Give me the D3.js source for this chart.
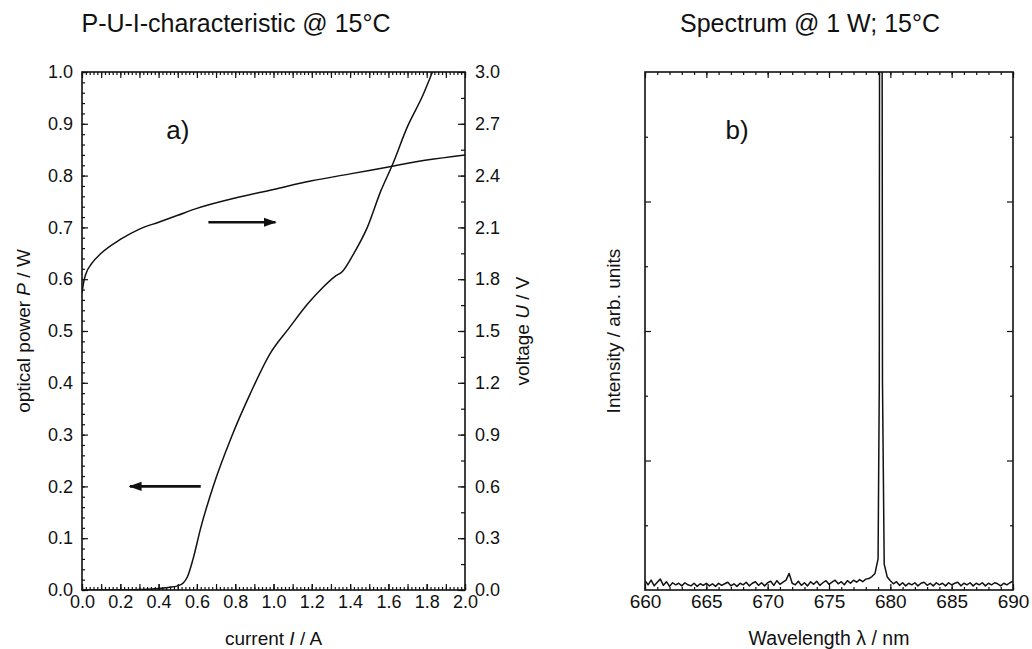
<!DOCTYPE html>
<html>
<head>
<meta charset="utf-8">
<script src="https://cdn.jsdelivr.net/npm/d3@7"></script>
<style>
  body { margin: 0; background: #fff; }
  svg { display: block; }
  text { font-family: "Liberation Sans", Arial, Helvetica, sans-serif; fill: #111; }
</style>
</head>
<body>
<svg id="chart" width="1032" height="649"></svg>
<script>
// ---- Panel a): optical power and voltage versus current ----
const powerCurrent = [0.00, 0.20, 0.30, 0.40, 0.45, 0.50, 0.53, 0.55, 0.58, 0.62, 0.685, 0.78, 0.88, 0.98, 1.08, 1.18, 1.26, 1.32, 1.36, 1.42, 1.49, 1.56, 1.62, 1.70, 1.78, 1.83];
const powerValues  = [0.000, 0.000, 0.001, 0.003, 0.005, 0.008, 0.014, 0.025, 0.060, 0.120, 0.200, 0.295, 0.380, 0.455, 0.505, 0.553, 0.585, 0.605, 0.615, 0.650, 0.700, 0.770, 0.820, 0.895, 0.955, 1.000];

const voltageCurrent = [0.00, 0.01, 0.02, 0.05, 0.10, 0.20, 0.30, 0.40, 0.50, 0.60, 0.80, 1.00, 1.20, 1.40, 1.60, 1.80, 2.00];
const voltageValues  = [1.72, 1.79, 1.83, 1.89, 1.95, 2.03, 2.09, 2.13, 2.17, 2.21, 2.27, 2.32, 2.37, 2.41, 2.45, 2.49, 2.52];

const currentTicks = [0.0, 0.2, 0.4, 0.6, 0.8, 1.0, 1.2, 1.4, 1.6, 1.8, 2.0];
const powerTicks   = [0.0, 0.1, 0.2, 0.3, 0.4, 0.5, 0.6, 0.7, 0.8, 0.9, 1.0];
const voltageTicks = [0.0, 0.3, 0.6, 0.9, 1.2, 1.5, 1.8, 2.1, 2.4, 2.7, 3.0];

// ---- Panel b): emission spectrum at 1 W ----
const wavelength = [
  660.00, 660.25, 660.50, 660.75, 661.00, 661.25, 661.50, 661.75, 662.00, 662.25,
  662.50, 662.75, 663.00, 663.25, 663.50, 663.75, 664.00, 664.25, 664.50, 664.75,
  665.00, 665.25, 665.50, 665.75, 666.00, 666.25, 666.50, 666.75, 667.00, 667.25,
  667.50, 667.75, 668.00, 668.25, 668.50, 668.75, 669.00, 669.25, 669.50, 669.75,
  670.00, 670.25, 670.50, 670.75, 671.00, 671.25, 671.50, 671.75, 672.00, 672.25,
  672.50, 672.75, 673.00, 673.25, 673.50, 673.75, 674.00, 674.25, 674.50, 674.75,
  675.00, 675.25, 675.50, 675.75, 676.00, 676.25, 676.50, 676.75, 677.00, 677.25,
  677.50, 677.75, 678.00, 678.25, 678.50, 678.75, 679.00, 679.10, 679.13, 679.32,
  679.36, 679.50, 679.75, 680.00, 680.25, 680.50, 680.75, 681.00, 681.25, 681.50,
  681.75, 682.00, 682.25, 682.50, 682.75, 683.00, 683.25, 683.50, 683.75, 684.00,
  684.25, 684.50, 684.75, 685.00, 685.25, 685.50, 685.75, 686.00, 686.25, 686.50,
  686.75, 687.00, 687.25, 687.50, 687.75, 688.00, 688.25, 688.50, 688.75, 689.00,
  689.25, 689.50, 689.75, 690.00
];
const intensity = [
  0.018, 0.010, 0.019, 0.008, 0.015, 0.021, 0.009, 0.016, 0.007, 0.014,
  0.010, 0.013, 0.008, 0.014, 0.010, 0.008, 0.013, 0.007, 0.012, 0.009,
  0.013, 0.008, 0.012, 0.007, 0.013, 0.009, 0.012, 0.015, 0.008, 0.012,
  0.007, 0.013, 0.010, 0.015, 0.008, 0.013, 0.016, 0.009, 0.014, 0.008,
  0.014, 0.017, 0.009, 0.018, 0.011, 0.015, 0.019, 0.032, 0.013, 0.010,
  0.017, 0.009, 0.014, 0.008, 0.016, 0.011, 0.017, 0.009, 0.014, 0.018,
  0.011, 0.015, 0.019, 0.012, 0.016, 0.010, 0.018, 0.013, 0.019, 0.015,
  0.020, 0.016, 0.021, 0.022, 0.026, 0.032, 0.060, 0.400, 1.300, 1.300,
  0.400, 0.050, 0.025, 0.018, 0.012, 0.016, 0.009, 0.014, 0.008, 0.013,
  0.010, 0.014, 0.008, 0.013, 0.015, 0.009, 0.013, 0.008, 0.014, 0.010,
  0.013, 0.008, 0.014, 0.010, 0.013, 0.015, 0.008, 0.013, 0.010, 0.014,
  0.008, 0.013, 0.010, 0.014, 0.008, 0.013, 0.010, 0.014, 0.012, 0.008,
  0.013, 0.010, 0.014, 0.017
];
const wavelengthTicks = [660, 665, 670, 675, 680, 685, 690];

// ---- Layout ----
const svg = d3.select("#chart");
const A = { left: 82, right: 465, top: 72, bottom: 590 };
const B = { left: 645, right: 1013, top: 72, bottom: 590 };
const ink = "#111";
const FONT = '"Liberation Sans", Arial, sans-serif';

function styleAxis(size) {
  return g => {
    g.select(".domain").remove();
    g.selectAll(".tick line").attr("stroke", ink).attr("stroke-width", 1.2);
    g.selectAll(".tick text").attr("font-size", size).attr("fill", ink).attr("font-family", FONT);
  };
}

function range(a, b, step) {
  const out = [];
  const n = Math.round((b - a) / step);
  for (let i = 0; i <= n; i++) out.push(+(a + i * step).toFixed(4));
  return out;
}

const defs = svg.append("defs");
defs.append("clipPath").attr("id", "clipA")
  .append("rect").attr("x", A.left).attr("y", A.top)
  .attr("width", A.right - A.left).attr("height", A.bottom - A.top);
defs.append("clipPath").attr("id", "clipB")
  .append("rect").attr("x", B.left).attr("y", B.top)
  .attr("width", B.right - B.left).attr("height", B.bottom - B.top);
defs.append("marker").attr("id", "head").attr("viewBox", "0 0 10 10")
  .attr("refX", 9).attr("refY", 5).attr("markerWidth", 5).attr("markerHeight", 5)
  .attr("orient", "auto-start-reverse")
  .append("path").attr("d", "M0,1.5 L10,5 L0,8.5 Z").attr("fill", ink);

// ================= Panel a =================
const xI = d3.scaleLinear().domain([0, 2]).range([A.left, A.right]);
const yP = d3.scaleLinear().domain([0, 1]).range([A.bottom, A.top]);
const yU = d3.scaleLinear().domain([0, 3]).range([A.bottom, A.top]);
const gA = svg.append("g");

const minorI = range(0, 2, 0.02);
const midI = range(0, 2, 0.1);
const minorP = range(0, 1, 0.02);
const noLabel = styleAxis(0);

// minor ticks, all pointing into the plot
gA.append("g").attr("transform", `translate(0,${A.bottom})`)
  .call(d3.axisBottom(xI).tickValues(minorI).tickFormat("").tickSize(-3)).call(noLabel);
gA.append("g").attr("transform", `translate(0,${A.top})`)
  .call(d3.axisTop(xI).tickValues(minorI).tickFormat("").tickSize(-3)).call(noLabel);
gA.append("g").attr("transform", `translate(0,${A.bottom})`)
  .call(d3.axisBottom(xI).tickValues(midI).tickFormat("").tickSize(-6)).call(noLabel);
gA.append("g").attr("transform", `translate(0,${A.top})`)
  .call(d3.axisTop(xI).tickValues(midI).tickFormat("").tickSize(-6)).call(noLabel);
gA.append("g").attr("transform", `translate(${A.left},0)`)
  .call(d3.axisLeft(yP).tickValues(minorP).tickFormat("").tickSize(-3)).call(noLabel);
gA.append("g").attr("transform", `translate(${A.right},0)`)
  .call(d3.axisRight(yU).tickValues(range(0, 3, 0.15)).tickFormat("").tickSize(-4)).call(noLabel);

// labelled axes
gA.append("g").attr("transform", `translate(0,${A.bottom})`)
  .call(d3.axisBottom(xI).tickValues(currentTicks).tickFormat(d3.format(".1f")).tickSize(-6).tickPadding(5))
  .call(styleAxis(18));
gA.append("g").attr("transform", `translate(${A.left},0)`)
  .call(d3.axisLeft(yP).tickValues(powerTicks).tickFormat(d3.format(".1f")).tickSize(-6).tickPadding(9))
  .call(styleAxis(18));
gA.append("g").attr("transform", `translate(${A.right},0)`)
  .call(d3.axisRight(yU).tickValues(voltageTicks).tickFormat(d3.format(".1f")).tickSize(-7).tickPadding(10))
  .call(styleAxis(18));

// frame
gA.append("rect").attr("x", A.left).attr("y", A.top)
  .attr("width", A.right - A.left).attr("height", A.bottom - A.top)
  .attr("fill", "none").attr("stroke", ink).attr("stroke-width", 1.6);

// curves
const powerLine = d3.line().x(d => xI(d[0])).y(d => yP(d[1])).curve(d3.curveMonotoneX);
const voltageLine = d3.line().x(d => xI(d[0])).y(d => yU(d[1])).curve(d3.curveMonotoneX);
gA.append("path").datum(d3.zip(powerCurrent, powerValues))
  .attr("clip-path", "url(#clipA)")
  .attr("d", powerLine).attr("fill", "none").attr("stroke", ink).attr("stroke-width", 1.5);
gA.append("path").datum(d3.zip(voltageCurrent, voltageValues))
  .attr("clip-path", "url(#clipA)")
  .attr("d", voltageLine).attr("fill", "none").attr("stroke", ink).attr("stroke-width", 1.5);

// arrows pointing to the axis each curve belongs to
gA.append("line").attr("x1", xI(0.66)).attr("x2", xI(1.01))
  .attr("y1", yP(0.71)).attr("y2", yP(0.71))
  .attr("stroke", ink).attr("stroke-width", 2.6).attr("marker-end", "url(#head)");
gA.append("line").attr("x1", xI(0.62)).attr("x2", xI(0.25))
  .attr("y1", yP(0.2)).attr("y2", yP(0.2))
  .attr("stroke", ink).attr("stroke-width", 2.6).attr("marker-end", "url(#head)");

// texts
svg.append("text").attr("x", 236).attr("y", 32).attr("text-anchor", "middle")
  .attr("font-size", 25).text("P-U-I-characteristic @ 15°C");
gA.append("text").attr("x", xI(0.5)).attr("y", yP(0.9) + 15).attr("text-anchor", "middle")
  .attr("font-size", 26).text("a)");
gA.append("text").attr("x", (A.left + A.right) / 2).attr("y", 645).attr("text-anchor", "middle")
  .attr("font-size", 19)
  .call(t => { t.append("tspan").text("current "); t.append("tspan").attr("font-style", "italic").text("I"); t.append("tspan").text(" / A"); });
gA.append("text").attr("transform", `translate(30,${(A.top + A.bottom) / 2}) rotate(-90)`)
  .attr("text-anchor", "middle").attr("font-size", 19)
  .call(t => { t.append("tspan").text("optical power "); t.append("tspan").attr("font-style", "italic").text("P"); t.append("tspan").text(" / W"); });
gA.append("text").attr("transform", `translate(529,${(A.top + A.bottom) / 2}) rotate(-90)`)
  .attr("text-anchor", "middle").attr("font-size", 19)
  .call(t => { t.append("tspan").text("voltage "); t.append("tspan").attr("font-style", "italic").text("U"); t.append("tspan").text(" / V"); });

// ================= Panel b =================
const xW = d3.scaleLinear().domain([660, 690]).range([B.left, B.right]);
const yS = d3.scaleLinear().domain([0, 1]).range([B.bottom, B.top]);
const gB = svg.append("g");

const minorW = range(660, 690, 1);
gB.append("g").attr("transform", `translate(0,${B.bottom})`)
  .call(d3.axisBottom(xW).tickValues(minorW).tickFormat("").tickSize(-3)).call(noLabel);
gB.append("g").attr("transform", `translate(0,${B.top})`)
  .call(d3.axisTop(xW).tickValues(minorW).tickFormat("").tickSize(-3)).call(noLabel);
gB.append("g").attr("transform", `translate(0,${B.top})`)
  .call(d3.axisTop(xW).tickValues(wavelengthTicks).tickFormat("").tickSize(-6)).call(noLabel);
gB.append("g").attr("transform", `translate(0,${B.bottom})`)
  .call(d3.axisBottom(xW).tickValues(wavelengthTicks).tickFormat(d3.format("d")).tickSize(-6).tickPadding(5))
  .call(styleAxis(19));
const minorS = [0.125, 0.375, 0.625, 0.875];
const majorS = [0.25, 0.5, 0.75];
[[B.left, d3.axisLeft], [B.right, d3.axisRight]].forEach(([x, ax]) => {
  gB.append("g").attr("transform", `translate(${x},0)`)
    .call(ax(yS).tickValues(minorS).tickFormat("").tickSize(-3)).call(noLabel);
  gB.append("g").attr("transform", `translate(${x},0)`)
    .call(ax(yS).tickValues(majorS).tickFormat("").tickSize(-6)).call(noLabel);
});

gB.append("rect").attr("x", B.left).attr("y", B.top)
  .attr("width", B.right - B.left).attr("height", B.bottom - B.top)
  .attr("fill", "none").attr("stroke", ink).attr("stroke-width", 1.6);

const specLine = d3.line().x(d => xW(d[0])).y(d => yS(d[1]));
gB.append("path").datum(d3.zip(wavelength, intensity))
  .attr("clip-path", "url(#clipB)")
  .attr("d", specLine).attr("fill", "none").attr("stroke", ink)
  .attr("stroke-width", 1.5).attr("stroke-linejoin", "round");

svg.append("text").attr("x", 810).attr("y", 32).attr("text-anchor", "middle")
  .attr("font-size", 25).text("Spectrum @ 1 W; 15°C");
gB.append("text").attr("x", 737).attr("y", yS(0.9) + 15).attr("text-anchor", "middle")
  .attr("font-size", 26).text("b)");
gB.append("text").attr("x", (B.left + B.right) / 2).attr("y", 645).attr("text-anchor", "middle")
  .attr("font-size", 19.5).text("Wavelength λ / nm");
gB.append("text").attr("transform", `translate(620,${(B.top + B.bottom) / 2}) rotate(-90)`)
  .attr("text-anchor", "middle").attr("font-size", 19).text("Intensity / arb. units");
</script>
</body>
</html>
